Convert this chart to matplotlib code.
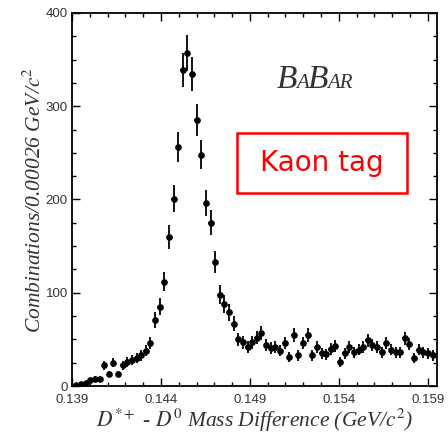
import numpy as np
import matplotlib
matplotlib.use("Agg")
import matplotlib.pyplot as plt
from matplotlib.patches import Rectangle
from matplotlib.ticker import MultipleLocator
from matplotlib.transforms import offset_copy

plt.rcParams["mathtext.fontset"] = "stix"

# D*+ - D0 mass difference histogram, bins of 0.00026 GeV/c^2
bin_width = 0.00026
first_center = 0.13925
counts = [1, 2, 3, 6, 8, 8, 22, 13, 25, 13,
          22, 26, 28, 30, 33, 38, 46, 71, 85, 112,
          160, 201, 256, 339, 357, 335, 285, 248, 196, 175,
          133, 98, 88, 79, 67, 50, 47, 42, 47, 52,
          57, 44, 41, 42, 38, 46, 31, 55, 33, 46,
          55, 33, 42, 35, 34, 40, 43, 26, 35, 42,
          36, 39, 42, 49, 44, 42, 36, 46, 39, 36,
          36, 51, 45, 30, 39, 36, 35, 33]

counts = np.array(counts, dtype=float)
centers = first_center + bin_width * np.arange(len(counts))
errors = np.sqrt(counts)

fig = plt.figure(figsize=(4.48, 4.37), dpi=100)
ax = fig.add_axes([0.1607, 0.1167, 0.8147, 0.8536])

ax.errorbar(centers, counts, yerr=errors, xerr=bin_width / 2, fmt="o",
            color="black", ms=3.8, elinewidth=1.3, capsize=0)

ax.set_xlim(0.139, 0.15952)
ax.set_ylim(0, 400)
ax.xaxis.set_minor_locator(MultipleLocator(0.001))
ax.yaxis.set_major_locator(MultipleLocator(100))
ax.yaxis.set_minor_locator(MultipleLocator(25))
ax.set_xticks([0.139, 0.144, 0.149, 0.154, 0.159])
ax.set_xticklabels(["0.139", "0.144", "0.149", "0.154", "0.159"])
ax.tick_params(which="both", direction="in", top=True, right=True,
               labelsize=9.5, labelcolor="#333333", width=1.0)
ax.tick_params(axis="x", pad=6)
ax.tick_params(axis="y", pad=3)
ax.tick_params(which="major", length=6)
ax.tick_params(which="minor", length=3)
for lab in ax.get_xticklabels() + ax.get_yticklabels():
    lab.set_family("Liberation Sans")
for s in ax.spines.values():
    s.set_linewidth(1.3)

ax.set_xlabel(r"$D^{*+}$ - $D^{0}$ Mass Difference (GeV/$c^{2}$)",
              family="Liberation Serif", style="italic", fontsize=15.5,
              color="#333333", labelpad=0)
ax.set_ylabel(r"Combinations/0.00026 GeV/$c^{2}$",
              family="Liberation Serif", style="italic", fontsize=15.5,
              color="#333333", labelpad=0)

# experiment logo: big and small italic capitals side by side
fig.canvas.draw()
renderer = fig.canvas.get_renderer()
x_px = 0
for piece, size in [("B", 24), ("A", 15), ("B", 24), ("AR", 15)]:
    tr = offset_copy(ax.transAxes, fig=fig, x=x_px * 72 / fig.dpi, y=0, units="points")
    t = ax.text(0.56, 0.80, piece, transform=tr, fontsize=size,
                family="Liberation Serif", style="italic", color="#333333",
                ha="left", va="baseline")
    x_px += t.get_window_extent(renderer).width - 1

# tag label in a red frame
fig.patches.append(Rectangle((0.529, 0.558), 0.379, 0.137, transform=fig.transFigure,
                             fill=False, edgecolor="red", linewidth=1.8))
fig.text(0.719, 0.627, "Kaon tag", color="red", fontsize=20,
         family="DejaVu Sans", ha="center", va="center")

fig.savefig("out.png", dpi=100)
plt.close(fig)
